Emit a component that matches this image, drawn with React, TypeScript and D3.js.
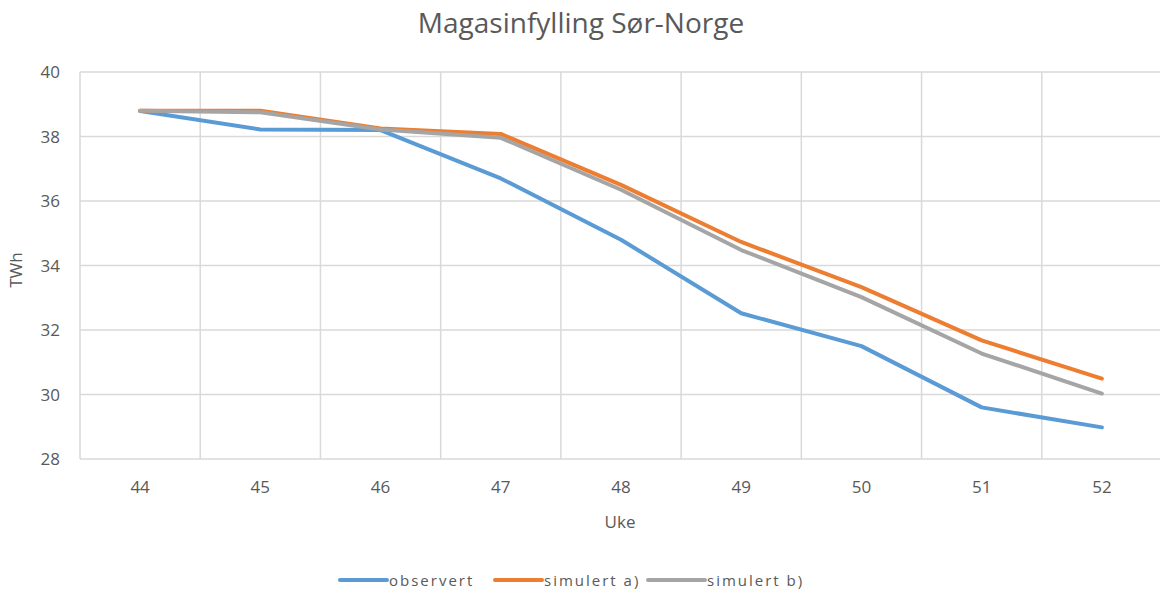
import React from "react";
import * as d3 from "d3";

const weeks = ["44", "45", "46", "47", "48", "49", "50", "51", "52"];
const observert = [38.79, 38.22, 38.2, 36.7, 34.8, 32.52, 31.5, 29.6, 28.98];
const simulertA = [38.8, 38.8, 38.25, 38.08, 36.5, 34.73, 33.33, 31.68, 30.49];
const simulertB = [38.8, 38.75, 38.22, 37.96, 36.35, 34.48, 33.02, 31.27, 30.03];
const yTicks = [28, 30, 32, 34, 36, 38, 40];

const seriesNames = ["observert", "simulert a)", "simulert b)"];
const seriesColors = ["#5B9BD5", "#ED7D31", "#A5A5A5"];

const W = 1160;
const H = 596;
const left = 80;
const right = 1162;
const top = 72;
const bottom = 459;
const font = "'Open Sans', sans-serif";
const textColor = "#595959";

export default function App() {
  const x = d3.scaleBand<string>().domain(weeks).range([left, right]);
  const y = d3.scaleLinear().domain([28, 40]).range([bottom, top]);
  const line = d3
    .line<number>()
    .x((_, i) => (x(weeks[i]) as number) + x.bandwidth() / 2)
    .y((v) => y(v));
  const all = [observert, simulertA, simulertB];
  const boundaries = weeks.map((w) => x(w) as number).concat([right]);
  const legendItems = [
    { x: 340, lineW: 47, textX: 389 },
    { x: 495, lineW: 47, textX: 544 },
    { x: 648, lineW: 57, textX: 707 },
  ];
  return (
    <svg width={W} height={H} style={{ position: "absolute", left: 0, top: 0, background: "#fff" }}>
      <text x={581} y={33} textAnchor="middle" fontFamily={font} fontSize={28} fill={textColor}>
        Magasinfylling Sør-Norge
      </text>
      {yTicks.map((t) => (
        <g key={t}>
          <line x1={left} x2={right} y1={y(t)} y2={y(t)} stroke="#D9D9D9" strokeWidth={1.5} />
          <text x={60} y={y(t) + 6} textAnchor="end" fontFamily={font} fontSize={17} fill={textColor}>
            {t}
          </text>
        </g>
      ))}
      {boundaries.map((b, i) => (
        <line key={i} x1={b} x2={b} y1={top} y2={bottom} stroke="#D9D9D9" strokeWidth={1.5} />
      ))}
      {weeks.map((w) => (
        <text
          key={w}
          x={(x(w) as number) + x.bandwidth() / 2}
          y={493}
          textAnchor="middle"
          fontFamily={font}
          fontSize={17}
          fill={textColor}
        >
          {w}
        </text>
      ))}
      <text x={620} y={528} textAnchor="middle" fontFamily={font} fontSize={17} fill={textColor}>
        Uke
      </text>
      <text
        transform={`translate(22,270) rotate(-90)`}
        textAnchor="middle"
        fontFamily={font}
        fontSize={17}
        fill={textColor}
      >
        TWh
      </text>
      {all.map((s, i) => (
        <path
          key={i}
          d={line(s) || ""}
          fill="none"
          stroke={seriesColors[i]}
          strokeWidth={4}
          strokeLinejoin="round"
          strokeLinecap="round"
        />
      ))}
      {legendItems.map((it, i) => (
        <g key={i}>
          <line
            x1={it.x}
            x2={it.x + it.lineW}
            y1={580}
            y2={580}
            stroke={seriesColors[i]}
            strokeWidth={4}
            strokeLinecap="round"
          />
          <text x={it.textX} y={586} fontFamily={font} fontSize={15} fill={textColor} letterSpacing={2}>
            {seriesNames[i]}
          </text>
        </g>
      ))}
    </svg>
  );
}
